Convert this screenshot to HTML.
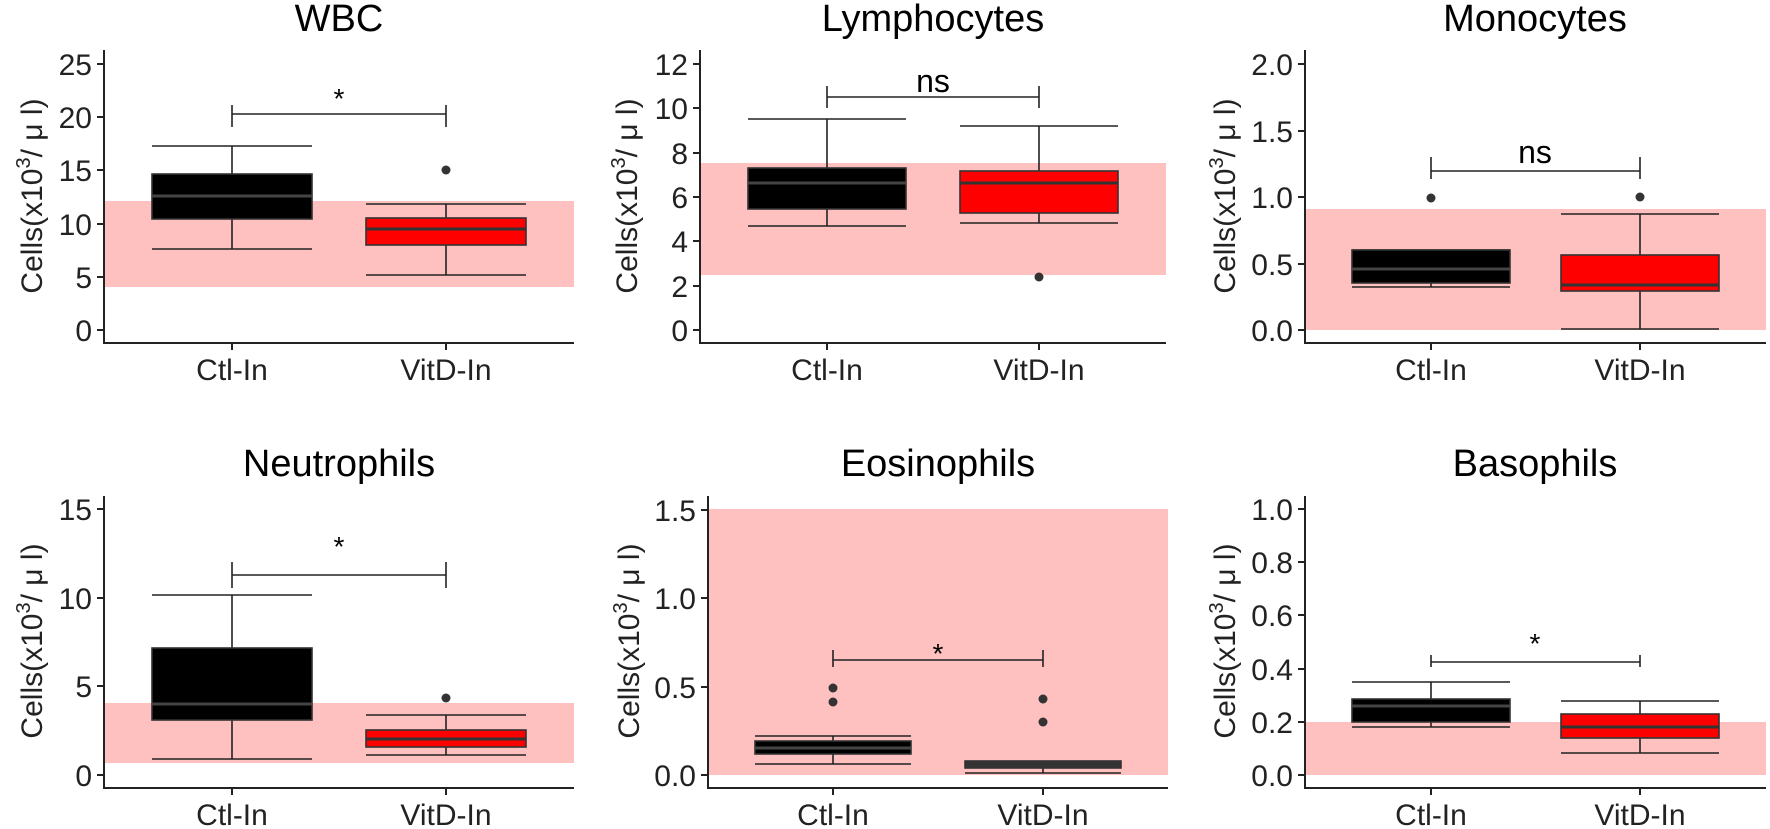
<!DOCTYPE html>
<html><head><meta charset="utf-8"><style>
html,body{margin:0;padding:0;background:#fff}
svg{display:block}
text{font-family:"Liberation Sans",Arial,sans-serif;fill:#000}
.t{font-size:38px;text-anchor:middle}
.tk{font-size:30px;text-anchor:end;fill:#222}
.xl{font-size:30px;text-anchor:middle;fill:#222}
.yl{font-size:30px;text-anchor:middle;fill:#222}
.st{font-size:28px;text-anchor:middle}
.ns{font-size:32px;text-anchor:middle}
.ax{stroke:#222;stroke-width:2;fill:none}
.w{stroke:#222;stroke-width:1.6;fill:none}
.bk{fill:#000;stroke:#333;stroke-width:1.6}
.rd{fill:#ff0000;stroke:#333;stroke-width:1.6}
.mk{stroke:#444;stroke-width:3}
.mr{stroke:#333;stroke-width:3}
.pk{fill:#ffc0c0}
.o{fill:#333}
</style></head><body>
<svg width="1770" height="829" viewBox="0 0 1770 829" xmlns="http://www.w3.org/2000/svg">

<!-- ===== P1 WBC ===== -->
<rect class="pk" x="104" y="201" width="470" height="86"/>
<path class="w" d="M232 146V249M152 146H312M152 249H312"/>
<rect class="bk" x="152" y="174" width="160" height="45"/>
<line class="mk" x1="152" y1="196" x2="312" y2="196"/>
<path class="w" d="M446 204V275M366 204H526M366 275H526"/>
<rect class="rd" x="366" y="218" width="160" height="27"/>
<line class="mr" x1="366" y1="229" x2="526" y2="229"/>
<circle class="o" cx="446" cy="170" r="4.5"/>
<path class="w" d="M232 114H446M232 105V127M446 105V127"/>
<text class="st" x="339" y="108">*</text>
<path class="ax" d="M104 50V343H574M97 330H104M97 277H104M97 224H104M97 170H104M97 117H104M97 64H104M232 343V350M446 343V350"/>
<text class="tk" x="92" y="341">0</text><text class="tk" x="92" y="288">5</text><text class="tk" x="92" y="235">10</text><text class="tk" x="92" y="181">15</text><text class="tk" x="92" y="128">20</text><text class="tk" x="92" y="75">25</text>
<text class="xl" x="232" y="380">Ctl-In</text><text class="xl" x="446" y="380">VitD-In</text>
<text class="t" x="339" y="31">WBC</text>
<text class="yl" x="42" y="196" transform="rotate(-90 42 196)">Cells(x10<tspan dy="-12" font-size="20">3</tspan><tspan dy="12">/ μ l)</tspan></text>

<!-- ===== P2 Lymphocytes ===== -->
<rect class="pk" x="700" y="163" width="466" height="112"/>
<path class="w" d="M827 119V226M748 119H906M748 226H906"/>
<rect class="bk" x="748" y="168" width="158" height="41"/>
<line class="mk" x1="748" y1="183" x2="906" y2="183"/>
<path class="w" d="M1039 126V223M960 126H1118M960 223H1118"/>
<rect class="rd" x="960" y="171" width="158" height="42"/>
<line class="mr" x1="960" y1="183" x2="1118" y2="183"/>
<circle class="o" cx="1039" cy="277" r="4.5"/>
<path class="w" d="M827 97H1039M827 86V108M1039 86V108"/>
<text class="ns" x="933" y="92">ns</text>
<path class="ax" d="M700 50V343H1166M693 330H700M693 286H700M693 241H700M693 197H700M693 153H700M693 108H700M693 64H700M827 343V350M1039 343V350"/>
<text class="tk" x="688" y="341">0</text><text class="tk" x="688" y="297">2</text><text class="tk" x="688" y="252">4</text><text class="tk" x="688" y="208">6</text><text class="tk" x="688" y="164">8</text><text class="tk" x="688" y="119">10</text><text class="tk" x="688" y="75">12</text>
<text class="xl" x="827" y="380">Ctl-In</text><text class="xl" x="1039" y="380">VitD-In</text>
<text class="t" x="933" y="31">Lymphocytes</text>
<text class="yl" x="637" y="196" transform="rotate(-90 637 196)">Cells(x10<tspan dy="-12" font-size="20">3</tspan><tspan dy="12">/ μ l)</tspan></text>

<!-- ===== P3 Monocytes ===== -->
<rect class="pk" x="1305" y="209" width="461" height="121"/>
<path class="w" d="M1431 250V287M1352 287H1510M1352 250H1510"/>
<rect class="bk" x="1352" y="250" width="158" height="33"/>
<line class="mk" x1="1352" y1="269" x2="1510" y2="269"/>
<circle class="o" cx="1431" cy="198" r="4.5"/>
<path class="w" d="M1640 214V329M1561 214H1719M1561 329H1719"/>
<rect class="rd" x="1561" y="255" width="158" height="36"/>
<line class="mr" x1="1561" y1="285" x2="1719" y2="285"/>
<circle class="o" cx="1640" cy="197" r="4.5"/>
<path class="w" d="M1431 171H1640M1431 157V179M1640 157V179"/>
<text class="ns" x="1535" y="163">ns</text>
<path class="ax" d="M1305 50V343H1766M1298 330H1305M1298 264H1305M1298 197H1305M1298 131H1305M1298 64H1305M1431 343V350M1640 343V350"/>
<text class="tk" x="1293" y="341">0.0</text><text class="tk" x="1293" y="275">0.5</text><text class="tk" x="1293" y="208">1.0</text><text class="tk" x="1293" y="142">1.5</text><text class="tk" x="1293" y="75">2.0</text>
<text class="xl" x="1431" y="380">Ctl-In</text><text class="xl" x="1640" y="380">VitD-In</text>
<text class="t" x="1535" y="31">Monocytes</text>
<text class="yl" x="1235" y="196" transform="rotate(-90 1235 196)">Cells(x10<tspan dy="-12" font-size="20">3</tspan><tspan dy="12">/ μ l)</tspan></text>

<!-- ===== P4 Neutrophils ===== -->
<rect class="pk" x="104" y="703" width="470" height="60"/>
<path class="w" d="M232 595V759M152 595H312M152 759H312"/>
<rect class="bk" x="152" y="648" width="160" height="72"/>
<line class="mk" x1="152" y1="704" x2="312" y2="704"/>
<path class="w" d="M446 715V755M366 715H526M366 755H526"/>
<rect class="rd" x="366" y="730" width="160" height="17"/>
<line class="mr" x1="366" y1="739" x2="526" y2="739"/>
<circle class="o" cx="446" cy="698" r="4.5"/>
<path class="w" d="M232 575H446M232 562V588M446 562V588"/>
<text class="st" x="339" y="556">*</text>
<path class="ax" d="M104 496V788H574M97 775H104M97 686H104M97 598H104M97 509H104M232 788V795M446 788V795"/>
<text class="tk" x="92" y="786">0</text><text class="tk" x="92" y="697">5</text><text class="tk" x="92" y="609">10</text><text class="tk" x="92" y="520">15</text>
<text class="xl" x="232" y="825">Ctl-In</text><text class="xl" x="446" y="825">VitD-In</text>
<text class="t" x="339" y="476">Neutrophils</text>
<text class="yl" x="42" y="641" transform="rotate(-90 42 641)">Cells(x10<tspan dy="-12" font-size="20">3</tspan><tspan dy="12">/ μ l)</tspan></text>

<!-- ===== P5 Eosinophils ===== -->
<rect class="pk" x="708" y="509" width="460" height="266"/>
<path class="w" d="M833 736V764M755 736H911M755 764H911"/>
<rect class="bk" x="755" y="741" width="156" height="13"/>
<line class="mk" x1="755" y1="748" x2="911" y2="748"/>
<circle class="o" cx="833" cy="688" r="4.5"/><circle class="o" cx="833" cy="702" r="4.5"/>
<path class="w" d="M1043 761V773M965 773H1121"/>
<rect class="rd" x="965" y="761" width="156" height="7" style="fill:#333"/>
<line class="mr" x1="965" y1="765" x2="1121" y2="765"/>
<circle class="o" cx="1043" cy="699" r="4.5"/><circle class="o" cx="1043" cy="722" r="4.5"/>
<path class="w" d="M833 660H1043M833 650V667M1043 650V667"/>
<text class="st" x="938" y="663">*</text>
<path class="ax" d="M708 496V788H1168M701 775H708M701 687H708M701 598H708M701 510H708M833 788V795M1043 788V795"/>
<text class="tk" x="696" y="786">0.0</text><text class="tk" x="696" y="698">0.5</text><text class="tk" x="696" y="609">1.0</text><text class="tk" x="696" y="521">1.5</text>
<text class="xl" x="833" y="825">Ctl-In</text><text class="xl" x="1043" y="825">VitD-In</text>
<text class="t" x="938" y="476">Eosinophils</text>
<text class="yl" x="639" y="641" transform="rotate(-90 639 641)">Cells(x10<tspan dy="-12" font-size="20">3</tspan><tspan dy="12">/ μ l)</tspan></text>

<!-- ===== P6 Basophils ===== -->
<rect class="pk" x="1305" y="722" width="461" height="53"/>
<path class="w" d="M1431 682V727M1352 682H1510M1352 727H1510"/>
<rect class="bk" x="1352" y="699" width="158" height="23"/>
<line class="mk" x1="1352" y1="706" x2="1510" y2="706"/>
<path class="w" d="M1640 701V753M1561 701H1719M1561 753H1719"/>
<rect class="rd" x="1561" y="714" width="158" height="24"/>
<line class="mr" x1="1561" y1="727" x2="1719" y2="727"/>
<path class="w" d="M1431 662H1640M1431 655V667M1640 655V667"/>
<text class="st" x="1535" y="653">*</text>
<path class="ax" d="M1305 496V788H1766M1298 775H1305M1298 722H1305M1298 669H1305M1298 615H1305M1298 562H1305M1298 509H1305M1431 788V795M1640 788V795"/>
<text class="tk" x="1293" y="786">0.0</text><text class="tk" x="1293" y="733">0.2</text><text class="tk" x="1293" y="680">0.4</text><text class="tk" x="1293" y="626">0.6</text><text class="tk" x="1293" y="573">0.8</text><text class="tk" x="1293" y="520">1.0</text>
<text class="xl" x="1431" y="825">Ctl-In</text><text class="xl" x="1640" y="825">VitD-In</text>
<text class="t" x="1535" y="476">Basophils</text>
<text class="yl" x="1235" y="641" transform="rotate(-90 1235 641)">Cells(x10<tspan dy="-12" font-size="20">3</tspan><tspan dy="12">/ μ l)</tspan></text>

</svg>
</body></html>
